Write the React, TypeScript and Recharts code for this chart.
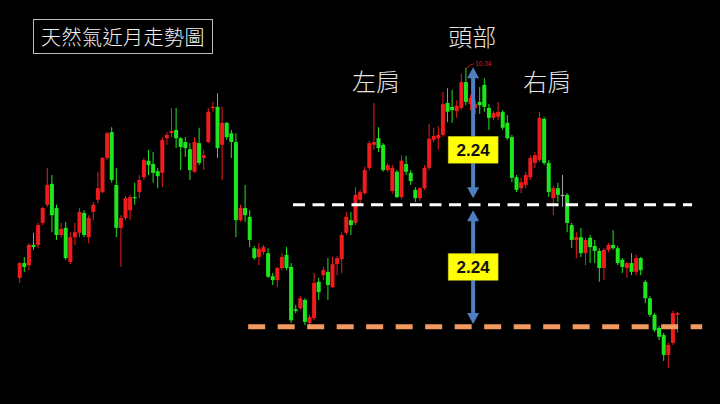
import React from 'react';
import { ComposedChart, Bar, XAxis, YAxis, ReferenceLine, ReferenceDot } from 'recharts';

// Natural gas front-month daily candles (price units)
const opens = [
  6.22, 6.49, 6.45, 6.82, 6.82, 7.22, 7.55, 7.93, 7.49, 7.00, 7.13, 6.51, 6.96, 7.04, 7.40, 6.96,
  7.42, 7.64, 7.78, 8.40, 8.87, 7.91, 7.13, 7.31, 7.45, 7.69, 7.78, 8.05, 8.35, 8.29, 8.16, 8.13,
  8.76, 8.85, 8.91, 8.76, 8.69, 8.56, 8.15, 8.67, 8.40, 8.69, 9.31, 9.33, 8.64, 9.04, 8.85, 8.69,
  7.27, 7.49, 7.33, 6.76, 6.60, 6.69, 6.67, 6.25, 6.18, 6.40, 6.64, 6.42, 5.65, 5.67, 5.82, 5.40,
  5.49, 6.15, 6.27, 6.33, 6.05, 6.47, 6.56, 7.04, 7.27, 7.22, 7.64, 7.76, 8.22, 8.64, 8.76, 8.64,
  8.18, 7.80, 8.15, 7.69, 8.29, 8.13, 7.82, 7.67, 7.85, 8.22, 8.73, 8.76, 8.82, 9.40, 9.33, 9.25,
  9.31, 9.78, 9.38, 9.31, 9.42, 9.73, 9.31, 9.13, 9.15, 9.24, 9.04, 8.78, 8.05, 7.85, 7.91, 8.05,
  8.31, 8.36, 9.11, 8.31, 7.67, 7.85, 7.73, 7.73, 7.18, 6.91, 6.96, 6.67, 6.95, 6.80, 6.71, 6.40,
  6.73, 6.82, 6.76, 6.55, 6.40, 6.49, 6.33, 6.58, 6.15, 5.85, 5.55, 5.31, 5.18, 4.82, 5.04, 5.55,
];
const highs = [
  6.51, 6.60, 6.85, 7.04, 7.22, 7.51, 8.22, 8.09, 7.55, 7.22, 7.24, 7.05, 7.22, 7.49, 7.45, 7.36,
  7.60, 8.15, 8.42, 8.87, 8.96, 8.22, 7.36, 7.71, 7.73, 7.95, 8.09, 8.40, 8.55, 8.51, 8.22, 8.78,
  8.87, 9.31, 9.31, 8.78, 8.78, 8.67, 8.78, 8.95, 8.55, 9.31, 9.42, 9.58, 9.33, 9.05, 8.91, 8.85,
  7.55, 7.91, 7.45, 6.80, 6.85, 6.82, 6.76, 6.31, 6.42, 6.67, 6.78, 6.49, 5.73, 5.89, 5.85, 5.55,
  6.31, 6.22, 6.42, 6.58, 6.60, 6.62, 7.05, 7.42, 7.42, 7.87, 7.82, 8.24, 8.71, 9.40, 8.96, 8.67,
  8.31, 8.27, 8.18, 8.45, 8.44, 8.18, 7.87, 7.87, 8.27, 9.02, 8.95, 8.98, 9.60, 9.67, 9.64, 9.45,
  9.93, 10.04, 9.55, 9.45, 9.69, 9.85, 9.38, 9.25, 9.42, 9.27, 9.18, 8.82, 8.09, 8.04, 8.15, 8.45,
  8.51, 9.24, 9.15, 8.36, 7.89, 7.95, 8.09, 7.76, 7.22, 7.05, 7.13, 6.95, 7.00, 6.91, 6.76, 6.76,
  6.85, 7.09, 6.80, 6.58, 6.51, 6.67, 6.64, 6.60, 6.18, 5.89, 5.58, 5.35, 5.22, 5.04, 5.62, 5.60,
];
const lows = [
  6.13, 6.33, 6.36, 6.73, 6.76, 7.18, 7.51, 7.05, 6.91, 6.95, 6.55, 6.47, 6.82, 6.96, 6.96, 6.85,
  7.27, 7.58, 7.76, 8.36, 7.95, 6.96, 6.42, 7.27, 7.27, 7.55, 7.67, 8.00, 8.09, 7.95, 7.85, 7.87,
  8.64, 8.78, 8.58, 8.18, 8.42, 8.00, 8.13, 8.27, 8.18, 8.67, 9.24, 8.40, 8.00, 8.73, 8.40, 6.96,
  7.24, 7.24, 6.78, 6.55, 6.45, 6.64, 6.22, 6.09, 6.05, 6.36, 6.36, 5.40, 5.58, 5.64, 5.36, 5.36,
  5.45, 5.82, 6.18, 5.82, 6.04, 6.27, 6.31, 7.00, 7.00, 7.18, 7.58, 7.73, 8.18, 8.55, 8.51, 8.15,
  8.15, 7.75, 7.67, 7.65, 8.09, 7.91, 7.60, 7.62, 7.82, 8.18, 8.69, 8.55, 8.78, 9.05, 9.04, 9.13,
  9.27, 9.36, 9.27, 9.20, 9.20, 9.24, 8.91, 9.09, 9.09, 8.91, 8.73, 7.96, 7.78, 7.76, 7.85, 8.00,
  8.22, 8.33, 8.27, 7.69, 7.36, 7.60, 7.51, 7.05, 6.76, 6.58, 6.60, 6.45, 6.49, 6.49, 6.15, 6.18,
  6.69, 6.73, 6.45, 6.31, 6.22, 6.27, 6.27, 6.27, 5.76, 5.51, 5.24, 5.09, 4.71, 4.58, 5.00, 5.22,
];
const closes = [
  6.49, 6.42, 6.82, 6.78, 7.18, 7.49, 7.91, 7.36, 7.00, 7.11, 6.58, 6.96, 7.05, 7.42, 7.00, 7.31,
  7.55, 7.85, 8.40, 8.85, 8.00, 7.13, 7.31, 7.67, 7.69, 7.67, 8.00, 8.36, 8.27, 8.13, 8.07, 8.73,
  8.82, 8.89, 8.76, 8.60, 8.58, 8.18, 8.69, 8.31, 8.45, 9.24, 9.33, 8.58, 9.04, 8.78, 8.69, 7.27,
  7.49, 7.36, 6.91, 6.58, 6.75, 6.78, 6.24, 6.18, 6.40, 6.60, 6.40, 5.45, 5.62, 5.85, 5.42, 5.51,
  6.13, 5.96, 6.36, 6.09, 6.47, 6.58, 7.00, 7.33, 7.18, 7.73, 7.78, 8.18, 8.67, 8.69, 8.58, 8.18,
  8.27, 8.22, 7.69, 8.35, 8.15, 7.98, 7.67, 7.85, 8.22, 8.75, 8.80, 8.82, 9.38, 9.24, 9.27, 9.35,
  9.78, 9.42, 9.49, 9.38, 9.36, 9.33, 9.13, 9.22, 9.24, 8.95, 8.76, 8.04, 7.82, 7.96, 8.09, 8.40,
  8.45, 9.13, 8.31, 7.78, 7.85, 7.73, 7.73, 7.22, 6.91, 6.96, 6.67, 6.91, 6.78, 6.71, 6.40, 6.73,
  6.82, 6.76, 6.49, 6.42, 6.49, 6.33, 6.58, 6.36, 5.85, 5.55, 5.27, 5.15, 4.82, 5.00, 5.58, 5.58,
];

// Pattern levels
const necklinePrice = 7.55;
const supportPrice = 5.33;
const headHighPrice = 10.04;
const moveLabel = '2.24';
const titleText = '天然氣近月走勢圖';
const headLabel = '頭部';
const leftShoulderLabel = '左肩';
const rightShoulderLabel = '右肩';

const data = opens.map((o, i) => ({ i, open: o, high: highs[i], low: lows[i], close: closes[i] }));

const UP = '#ee1c1c';
const DOWN = '#1ee61e';
const FLAT = '#a6a6a6';
const BLUE = '#4f7fc0';
const ORANGE = '#f2995f';
const CJK = '"Noto Sans CJK TC", "Noto Sans CJK SC", sans-serif';

const Candle = (props: any) => {
  const { x, y, width, height, payload } = props;
  if (!payload || x == null || y == null) return null;
  const { open, close, high, low } = payload;
  const yTop = height < 0 ? y + height : y;
  const h = Math.abs(height);
  const color = close > open ? UP : close < open ? DOWN : FLAT;
  const range = high - low;
  const ratio = range > 0 ? h / range : 0;
  const bTop = yTop + (high - Math.max(open, close)) * ratio;
  const bBot = yTop + (high - Math.min(open, close)) * ratio;
  const cx = x + width / 2;
  return (
    <g>
      <line x1={cx} x2={cx} y1={yTop} y2={yTop + h} stroke={color} strokeWidth={1} />
      <rect x={x} y={bTop} width={width} height={Math.max(1.2, bBot - bTop)} fill={color} />
    </g>
  );
};

const DoubleArrow = (props: any) => {
  const { x1, y1, x2, y2 } = props;
  const x = (x1 + x2) / 2;
  const top = Math.min(y1, y2);
  const bot = Math.max(y1, y2);
  const hw = 6;
  const hl = 11;
  return (
    <g>
      <line x1={x} x2={x} y1={top + hl - 1} y2={bot - hl + 1} stroke={BLUE} strokeWidth={4} />
      <polygon points={`${x},${top} ${x - hw},${top + hl} ${x + hw},${top + hl}`} fill={BLUE} />
      <polygon points={`${x},${bot} ${x - hw},${bot - hl} ${x + hw},${bot - hl}`} fill={BLUE} />
    </g>
  );
};

const YellowTag = (props: any) => {
  const { cx, cy } = props;
  return (
    <g>
      <rect x={cx - 25} y={cy - 13.5} width={50} height={27} fill="#ffff00" stroke="#9a9a30" strokeWidth={0.5} />
      <text x={cx} y={cy + 6} textAnchor="middle" fontFamily='"Liberation Sans", Arial, sans-serif' fontWeight={700} fontSize={17} fill="#111">
        {moveLabel}
      </text>
    </g>
  );
};

const makeLabel = (txt: string) => (props: any) => {
  const { cx, cy } = props;
  return (
    <text x={cx} y={cy + 9} textAnchor="middle" fontFamily={CJK} fontWeight={300} fontSize={24} fill="#e4e4e4">
      {txt}
    </text>
  );
};

const HighTag = (props: any) => {
  const { cx, cy } = props;
  return (
    <g>
      <path d={`M ${cx} ${cy + 1} Q ${cx + 3} ${cy - 4} ${cx + 8} ${cy - 4}`} stroke="#d42020" strokeWidth={0.8} fill="none" />
      <text x={cx + 9} y={cy - 2} fontFamily='"Liberation Sans", Arial, sans-serif' fontSize={6.5} fill="#d42020">
        {headHighPrice.toFixed(2)}
      </text>
    </g>
  );
};

export default function App() {
  return (
    <div style={{ position: 'absolute', left: 0, top: 0, width: 720, height: 404, background: '#000', overflow: 'hidden' }}>
      <ComposedChart width={720} height={404} data={data} margin={{ top: 0, right: 0, bottom: 0, left: 0 }}>
        <XAxis type="number" dataKey="i" hide domain={[-4.35, 152.17]} allowDataOverflow />
        <YAxis type="number" hide domain={[3.9273, 11.2727]} allowDataOverflow />
        <Bar dataKey={(d: any) => [d.low, d.high]} barSize={4} shape={Candle} isAnimationActive={false} />
        <ReferenceLine
          segment={[{ x: 59.35, y: necklinePrice }, { x: 146.1, y: necklinePrice }]}
          stroke="#ffffff"
          strokeWidth={3}
          strokeDasharray="12 7.5"
        />
        <ReferenceLine
          segment={[{ x: 49.6, y: supportPrice }, { x: 148.3, y: supportPrice }]}
          stroke={ORANGE}
          strokeWidth={5}
          strokeDasharray="17 12.5"
        />
        <ReferenceLine segment={[{ x: 98.5, y: 7.67 }, { x: 98.5, y: 10.05 }]} shape={DoubleArrow} />
        <ReferenceLine segment={[{ x: 98.5, y: 5.38 }, { x: 98.5, y: 7.45 }]} shape={DoubleArrow} />
        <ReferenceDot x={98.5} y={8.55} shape={YellowTag} />
        <ReferenceDot x={98.5} y={6.42} shape={YellowTag} />
        <ReferenceDot x={98.3} y={10.6} shape={makeLabel(headLabel)} />
        <ReferenceDot x={77.4} y={9.78} shape={makeLabel(leftShoulderLabel)} />
        <ReferenceDot x={114.6} y={9.78} shape={makeLabel(rightShoulderLabel)} />
        <ReferenceDot x={97} y={headHighPrice} shape={HighTag} />
      </ComposedChart>
      <div
        style={{
          position: 'absolute',
          left: 33,
          top: 19,
          width: 178,
          height: 33,
          border: '1px solid #bdbdbd',
          color: '#f2f2f2',
          fontFamily: CJK,
          fontWeight: 300,
          fontSize: 20,
          lineHeight: '33px',
          textAlign: 'center',
          letterSpacing: 0.5,
        }}
      >
        {titleText}
      </div>
    </div>
  );
}
